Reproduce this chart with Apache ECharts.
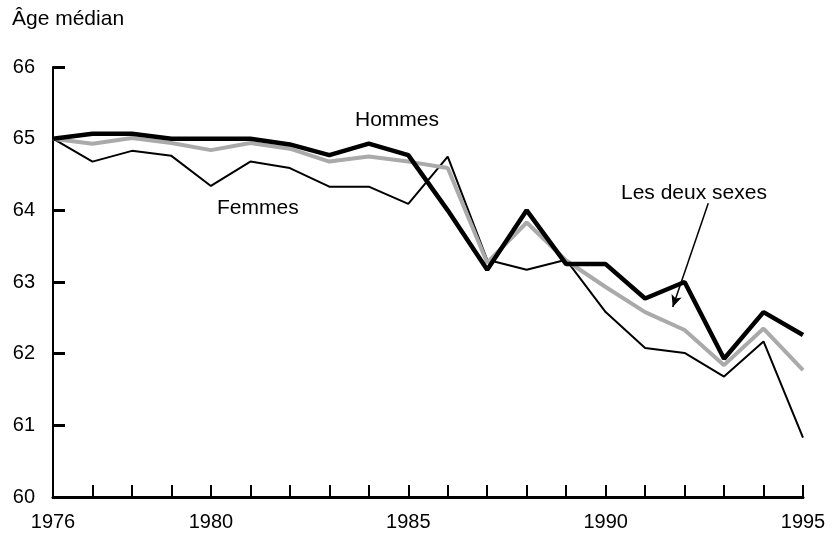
<!DOCTYPE html>
<html>
<head>
<meta charset="utf-8">
<script src="https://cdn.jsdelivr.net/npm/echarts@6/dist/echarts.min.js"></script>
<style>html,body{margin:0;padding:0;background:#fff;}#c{width:835px;height:536px;}</style>
</head>
<body>
<div id="c"></div>
<script>
const years = [1976,1977,1978,1979,1980,1981,1982,1983,1984,1985,1986,1987,1988,1989,1990,1991,1992,1993,1994,1995];
const hommes = [65.0,65.07,65.07,65.0,65.0,65.0,64.92,64.77,64.93,64.77,64.0,63.17,64.0,63.25,63.25,62.77,63.0,61.93,62.58,62.26];
const femmes = [65.0,64.68,64.83,64.76,64.34,64.68,64.59,64.33,64.33,64.09,64.75,63.31,63.17,63.31,62.58,62.08,62.01,61.68,62.17,60.83];
const deuxSexes = [65.0,64.93,65.01,64.94,64.84,64.94,64.86,64.68,64.75,64.68,64.59,63.27,63.83,63.3,62.93,62.58,62.33,61.84,62.35,61.77];
const xLabels = [1976,1980,1985,1990,1995];
const font = 'Liberation Sans, Arial, sans-serif';
const fs = 20;
const fa = 21;

const chart = echarts.init(document.getElementById('c'), null, {renderer:'canvas'});
const pair = arr => years.map((y,i)=>[y,arr[i]]);
chart.setOption({
  animation:false,
  backgroundColor:'#fff',
  grid:{left:53,right:32,top:67,bottom:39,containLabel:false},
  xAxis:{type:'value',min:1976,max:1995,interval:1,
    axisLine:{show:true,lineStyle:{color:'#000',width:3}},
    axisTick:{show:true,inside:true,length:12,lineStyle:{color:'#000',width:2}},
    splitLine:{show:false},
    axisLabel:{margin:15,color:'#000',fontSize:fs,fontFamily:font,
      formatter:v=> xLabels.indexOf(v)>=0 ? String(v) : ''}},
  yAxis:{type:'value',min:60,max:66,interval:1,
    axisLine:{show:true,lineStyle:{color:'#000',width:2}},
    axisTick:{show:true,inside:true,length:12,lineStyle:{color:'#000',width:3}},
    splitLine:{show:false},
    axisLabel:{margin:18,color:'#000',fontSize:fs,fontFamily:font}},
  series:[
    {name:'Femmes',type:'line',data:pair(femmes),symbol:'none',lineStyle:{color:'#000',width:2},z:2},
    {name:'Les deux sexes',type:'line',data:pair(deuxSexes),symbol:'none',lineStyle:{color:'#aaaaaa',width:4},z:3,
      markLine:{silent:true,symbol:['none','arrow'],symbolSize:[8,12],label:{show:false},
        lineStyle:{color:'#000',width:1.5,type:'solid'},
        data:[[{coord:[1992.6,64.1]},{coord:[1991.7,62.65]}]]}},
    {name:'Hommes',type:'line',data:pair(hommes),symbol:'none',lineStyle:{color:'#000',width:4.5},z:4}
  ],
  graphic:[
    {type:'text',left:12,top:9,style:{text:'Âge médian',font:fa+'px '+font,fill:'#000'}},
    {type:'text',left:355,top:110,style:{text:'Hommes',font:fa+'px '+font,fill:'#000'}},
    {type:'text',left:217,top:198,style:{text:'Femmes',font:fa+'px '+font,fill:'#000'}},
    {type:'text',left:621,top:183,style:{text:'Les deux sexes',font:fa+'px '+font,fill:'#000'}}
  ]
});
</script>
</body>
</html>
